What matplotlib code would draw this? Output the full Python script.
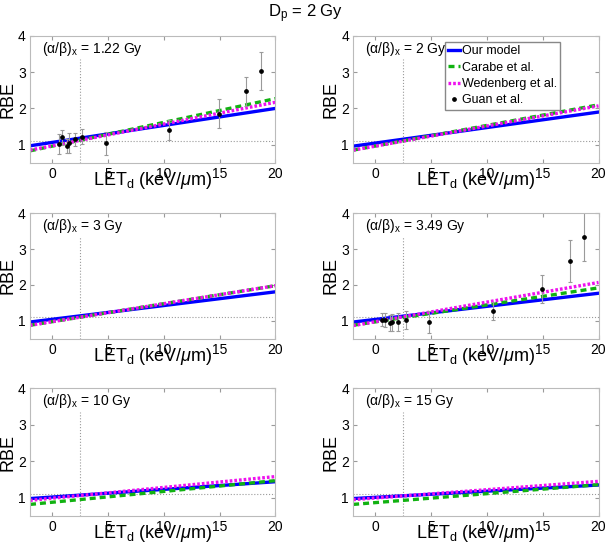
import matplotlib
matplotlib.use("Agg")
import matplotlib.pyplot as plt
import numpy as np

plt.rcParams["font.family"] = ["Liberation Sans", "DejaVu Sans"]
plt.rcParams["mathtext.fontset"] = "custom"
plt.rcParams["mathtext.rm"] = "Liberation Sans"
plt.rcParams["mathtext.it"] = "Liberation Sans:italic"

# --- data -------------------------------------------------------------------
ab_values = ["1.22", "2", "3", "3.49", "10", "15"]
let_ends = [-2, 20]
# RBE at LET = -2 and LET = 20 for each (alpha/beta)_x panel
our_model = [[0.97, 2.00], [0.96, 1.90], [0.97, 1.81],
             [0.97, 1.77], [0.98, 1.44], [0.98, 1.35]]
carabe = [[0.83, 2.27], [0.85, 2.10], [0.88, 1.98],
          [0.88, 1.92], [0.82, 1.47], [0.82, 1.36]]
wedenberg = [[0.85, 2.17], [0.85, 2.07], [0.88, 1.98],
             [0.87, 2.07], [0.93, 1.58], [0.95, 1.45]]

# Guan et al. measurements (only for 1.22 Gy and 3.49 Gy panels)
guan_let = [0.6, 0.9, 1.3, 1.5, 2.0, 2.7, 4.8, 10.5, 14.9, 17.4, 18.7]
guan_122 = [1.02, 1.20, 0.97, 1.04, 1.15, 1.22, 1.04, 1.40, 1.86, 2.47, 3.03]
guan_122_err = [0.27, 0.20, 0.20, 0.28, 0.18, 0.20, 0.32, 0.27, 0.40, 0.39, 0.52]
guan_349 = [1.04, 1.02, 0.95, 0.96, 0.97, 1.03, 0.97, 1.27, 1.89, 2.66, 3.34]
guan_349_err = [0.18, 0.20, 0.22, 0.24, 0.25, 0.25, 0.30, 0.25, 0.40, 0.58, 0.68]
guan = {0: (guan_122, guan_122_err), 3: (guan_349, guan_349_err)}

# --- layout -------------------------------------------------------------------
fig = plt.figure(figsize=(6.12, 5.52), dpi=100)
cols = [0.049, 0.577]
rows = [(0.705, 0.230), (0.386, 0.228), (0.065, 0.232)]
grey = "#9a9a9a"

for i, ab in enumerate(ab_values):
    r, c = divmod(i, 2)
    ax = fig.add_axes([cols[c], rows[r][0], 0.401, rows[r][1]])

    ax.plot([2.5, 2.5], [0.5, 3.35], ":", color=grey, lw=0.8)
    ax.axhline(1.1, ls=":", color=grey, lw=0.8)

    ax.plot(let_ends, our_model[i], "-", color="#0000ff", lw=2.4,
            label="Our model")
    ax.plot(let_ends, carabe[i], "--", color="#11b211", lw=2.4,
            dashes=(1.8, 1.2), label="Carabe et al.")
    ax.plot(let_ends, wedenberg[i], ":", color="#ee11ee", lw=2.4,
            dashes=(0.8, 0.6), label="Wedenberg et al.")
    if i in guan:
        vals, errs = guan[i]
        ax.errorbar(guan_let, vals, yerr=errs, fmt="none", ecolor=grey,
                    elinewidth=0.8, capsize=1.5, capthick=0.8)
        ax.plot(guan_let, vals, "o", color="k", ms=2.4, ls="none")
    else:
        ax.plot([], [], "o", color="k", ms=2.4, ls="none", label="Guan et al.")

    ax.text(0.05, 0.9, "(α/β)$_{\\rm x}$ = " + ab + " Gy",
            transform=ax.transAxes, fontsize=10, va="center")

    ax.set_xlim(-2, 20)
    ax.set_ylim(0.5, 4)
    ax.set_xticks([0, 5, 10, 15, 20])
    ax.set_yticks([1, 2, 3, 4])
    ax.tick_params(direction="in", length=3, labelsize=10, color=grey,
                   top=True, right=True, pad=3)
    for s in ax.spines.values():
        s.set_color("#bbbbbb")
        s.set_linewidth(0.8)
    ax.set_ylabel("RBE", fontsize=13, labelpad=1)
    ax.set_xlabel(r"LET$_{\rm d}$ (keV/$\mu$m)", fontsize=13, labelpad=-8)

    if i == 1:
        ax.legend(loc="upper right", bbox_to_anchor=(0.845, 0.955),
                  fontsize=9, handlelength=0.9, handletextpad=0.15,
                  borderpad=0.3, labelspacing=0.35, borderaxespad=0,
                  fancybox=False, edgecolor="#888888", framealpha=1)

fig.text(0.5, 0.975, r"D$_{\rm p}$ = 2 Gy", ha="center", va="center",
         fontsize=12)

fig.savefig("out.png", dpi=100)
